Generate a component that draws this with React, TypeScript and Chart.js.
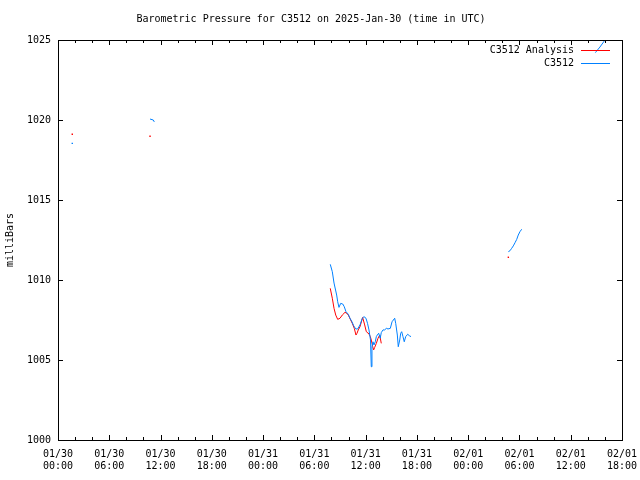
import React, { useEffect, useRef } from "react";
import { Chart, registerables } from "chart.js";

Chart.register(...registerables);

const chartTitle = "Barometric Pressure for C3512 on 2025-Jan-30 (time in UTC)";
const yAxisTitle = "milliBars";

// hours since 2025-01-30 00:00 UTC
const xTickDates = ["01/30", "01/30", "01/30", "01/30", "01/31", "01/31", "01/31", "01/31", "02/01", "02/01", "02/01", "02/01"];
const xTickTimes = ["00:00", "06:00", "12:00", "18:00", "00:00", "06:00", "12:00", "18:00", "00:00", "06:00", "12:00", "18:00"];

const analysisLabel = "C3512 Analysis";
const analysisHours = [1.67, 5, 10.77, 20, 31.86, 32.10, 32.30, 32.50, 32.73, 33.00, 33.27, 33.59, 33.78, 33.97, 34.25, 34.44, 34.67, 34.87, 34.99, 35.14, 35.34, 35.65, 35.89, 36.08, 36.39, 36.55, 36.66, 36.83, 36.94, 37.06, 37.25, 37.45, 37.65, 37.83, 45, 52.70];
const analysisMb = [1019.11, null, 1018.98, null, 1009.48, 1008.86, 1008.23, 1007.81, 1007.54, 1007.61, 1007.81, 1007.98, 1007.92, 1007.81, 1007.50, 1007.29, 1006.98, 1006.56, 1006.67, 1006.88, 1007.08, 1007.66, 1007.19, 1006.77, 1006.63, 1006.46, 1006.25, 1005.83, 1005.63, 1005.79, 1006.04, 1006.36, 1006.56, 1006.04, null, 1011.42];

const stationLabel = "C3512";
const stationHours = [1.67, 5, 10.77, 11.15, 11.27, 20, 31.86, 32.10, 32.30, 32.61, 32.73, 32.88, 33.08, 33.32, 33.50, 33.70, 33.97, 34.17, 34.40, 34.60, 34.84, 35.07, 35.34, 35.61, 35.81, 36.04, 36.22, 36.39, 36.57, 36.66, 36.74, 36.86, 36.98, 37.13, 37.25, 37.36, 37.53, 37.71, 37.83, 38.03, 38.23, 38.42, 38.62, 38.89, 39.09, 39.40, 39.52, 39.71, 39.82, 39.99, 40.10, 40.22, 40.37, 40.52, 40.69, 40.92, 41.11, 41.31, 46, 52.70, 52.89, 53.09, 53.28, 53.48, 53.68, 53.86, 54.06, 54.26, 58, 62.88, 63.42, 63.93, 64.36];
const stationMb = [1018.54, null, 1020.06, 1020.0, 1019.88, null, 1010.98, 1010.52, 1009.81, 1009.06, 1008.64, 1008.29, 1008.54, 1008.50, 1008.33, 1008.02, 1007.86, 1007.61, 1007.39, 1007.14, 1006.94, 1006.94, 1007.19, 1007.61, 1007.71, 1007.61, 1007.29, 1006.88, 1006.25, 1004.58, 1005.83, 1006.14, 1005.94, 1006.14, 1006.46, 1006.56, 1006.67, 1006.36, 1006.71, 1006.88, 1006.88, 1006.98, 1006.94, 1006.98, 1007.39, 1007.61, 1007.29, 1006.56, 1005.83, 1006.25, 1006.67, 1006.77, 1006.46, 1006.14, 1006.46, 1006.61, 1006.52, 1006.46, null, 1011.77, 1011.83, 1011.98, 1012.13, 1012.33, 1012.54, 1012.81, 1013.02, 1013.17, null, 1024.21, 1024.56, 1024.94, 1025.4];

const RED = "#ff0000";
const BLUE = "#0080ff";
const FONT = "'DejaVu Sans Mono', 'Liberation Mono', monospace";

const zip = (xs: number[], ys: (number | null)[]) => xs.map((x, i) => ({ x, y: ys[i] }));

const isolatedRadius = (ctx: any) => {
  const d = ctx.dataset.data;
  const i = ctx.dataIndex;
  const cur = d[i];
  if (!cur || cur.y == null) return 0;
  const prev = d[i - 1];
  const next = d[i + 1];
  const noPrev = !prev || prev.y == null;
  const noNext = !next || next.y == null;
  return noPrev && noNext ? 1 : 0;
};

const framePlugin = {
  id: "gnuframe",
  afterDatasetsDraw(chart: any) {
    const { ctx, chartArea } = chart;
    const { left, right, top, bottom } = chartArea;
    const xs = chart.scales.x;
    const ys = chart.scales.y;
    ctx.save();
    ctx.strokeStyle = "#000";
    ctx.lineWidth = 1;
    ctx.beginPath();
    // x ticks: major every 6h, minor every 2h
    for (let h = xs.min; h <= xs.max + 1e-6; h += 2) {
      const px = Math.round(xs.getPixelForValue(h)) + 0.5;
      const len = Math.abs(h % 6) < 1e-6 ? 5 : 3;
      ctx.moveTo(px, bottom);
      ctx.lineTo(px, bottom - len);
      ctx.moveTo(px, top);
      ctx.lineTo(px, top + len);
    }
    for (let v = ys.min; v <= ys.max + 1e-6; v += 5) {
      const py = Math.round(ys.getPixelForValue(v)) + 0.5;
      ctx.moveTo(left, py);
      ctx.lineTo(left + 5, py);
      ctx.moveTo(right, py);
      ctx.lineTo(right - 5, py);
    }
    ctx.stroke();
    ctx.strokeRect(Math.round(left) + 0.5, Math.round(top) + 0.5, Math.round(right - left), Math.round(bottom - top));

    // legend inside the plot, gnuplot style
    const entries = [
      { label: analysisLabel, color: RED },
      { label: stationLabel, color: BLUE },
    ];
    ctx.font = "10px " + FONT;
    ctx.textAlign = "right";
    ctx.textBaseline = "middle";
    entries.forEach((e, i) => {
      const y = top + 9.5 + i * 13.5;
      ctx.fillStyle = "#000";
      ctx.fillText(e.label, right - 48, y + 0.5);
      ctx.strokeStyle = e.color;
      ctx.beginPath();
      ctx.moveTo(right - 41, Math.round(y) + 0.5);
      ctx.lineTo(right - 12, Math.round(y) + 0.5);
      ctx.stroke();
    });
    ctx.restore();
  },
};

export default function App() {
  const ref = useRef<HTMLCanvasElement | null>(null);
  useEffect(() => {
    document.body.style.margin = "0";
    if (!ref.current) return;
    const chart = new Chart(ref.current, {
      type: "line",
      data: {
        datasets: [
          {
            label: analysisLabel,
            data: zip(analysisHours, analysisMb),
            borderColor: RED,
            backgroundColor: RED,
            borderWidth: 1,
            pointRadius: isolatedRadius,
            pointStyle: "rect",
            pointBorderWidth: 0,
            pointBackgroundColor: RED,
            spanGaps: false,
            tension: 0,
            order: 2,
          },
          {
            label: stationLabel,
            data: zip(stationHours, stationMb),
            borderColor: BLUE,
            backgroundColor: BLUE,
            borderWidth: 1,
            pointRadius: isolatedRadius,
            pointStyle: "rect",
            pointBorderWidth: 0,
            pointBackgroundColor: BLUE,
            spanGaps: false,
            tension: 0,
            order: 1,
          },
        ],
      },
      options: {
        responsive: false,
        animation: false,
        devicePixelRatio: 1,
        layout: { padding: { left: 0, right: 18, top: 0, bottom: 0 } },
        plugins: {
          legend: { display: false },
          tooltip: { enabled: false },
          title: {
            display: true,
            text: chartTitle,
            color: "#000",
            font: { family: FONT, size: 10, weight: "normal", lineHeight: 1.2 },
            padding: { top: 13, bottom: 15 },
          },
        },
        scales: {
          x: {
            type: "linear",
            min: 0,
            max: 66,
            grid: { display: false, drawTicks: false },
            border: { display: false },
            afterFit: (s: any) => {
              s.height = 40;
              s.paddingLeft = 0;
              s.paddingRight = 0;
            },
            ticks: {
              stepSize: 6,
              autoSkip: false,
              maxRotation: 0,
              padding: 8,
              color: "#000",
              font: { family: FONT, size: 10, lineHeight: 1.2 },
              callback: (v: any) => {
                const i = Math.round(Number(v) / 6);
                return [xTickDates[i], xTickTimes[i]];
              },
            },
          },
          y: {
            type: "linear",
            min: 1000,
            max: 1025,
            grid: { display: false, drawTicks: false },
            border: { display: false },
            afterFit: (s: any) => {
              s.width = 58;
              s.paddingTop = 0;
              s.paddingBottom = 0;
            },
            title: {
              display: true,
              text: yAxisTitle,
              color: "#000",
              font: { family: FONT, size: 10, lineHeight: 1.2 },
              padding: { top: 4, bottom: 0 },
            },
            ticks: {
              stepSize: 5,
              padding: 7,
              color: "#000",
              font: { family: FONT, size: 10, lineHeight: 1.2 },
              callback: (v: any) => String(v),
            },
          },
        },
      },
      plugins: [framePlugin],
    });
    return () => chart.destroy();
  }, []);
  return (
    <div style={{ position: "absolute", left: 0, top: 0, width: 640, height: 480, background: "#fff" }}>
      <canvas ref={ref} width={640} height={480} style={{ display: "block" }} />
    </div>
  );
}
